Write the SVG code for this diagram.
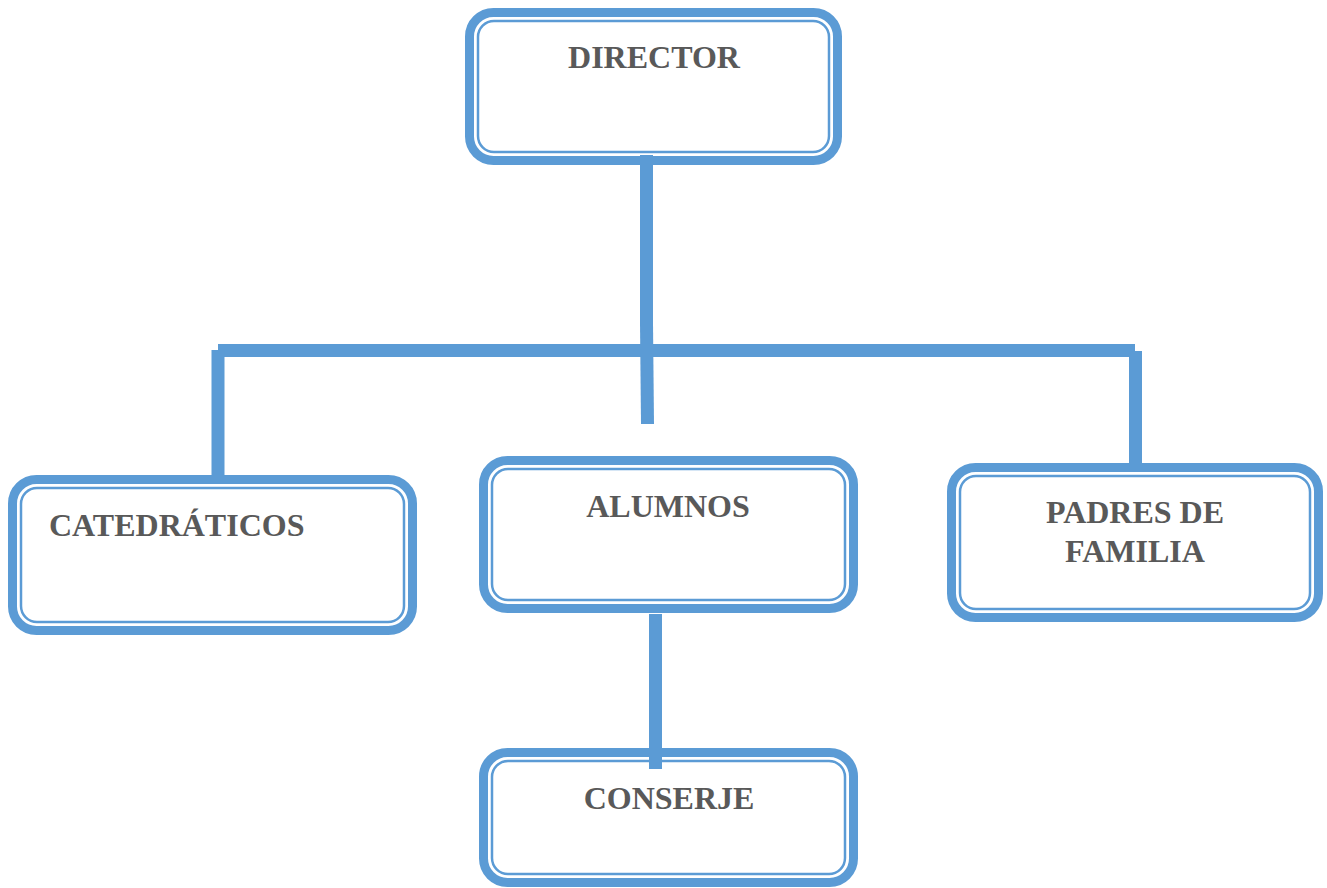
<svg xmlns="http://www.w3.org/2000/svg" width="1327" height="888" viewBox="0 0 1327 888">
<style>
.outer{fill:#fff;stroke:#5B9BD5;stroke-width:9}
.inner{fill:none;stroke:#5B9BD5;stroke-width:2.5}
.lbl{font-family:"Liberation Serif","Times New Roman",serif;font-weight:bold;font-size:32px;fill:#595959}
.c{text-anchor:middle}
.conn{stroke:#5B9BD5;stroke-width:13;fill:none;stroke-linecap:butt}
</style>
<rect width="1327" height="888" fill="#fff"/>
<g id="director">
<rect class="outer" x="469.5" y="12.5" width="368" height="148" rx="24"/>
<rect class="inner" x="478" y="21" width="351" height="131" rx="16"/>
<text class="lbl c" x="654" y="68">DIRECTOR</text>
</g>
<g id="catedraticos">
<rect class="outer" x="12.5" y="479.5" width="400" height="151" rx="24"/>
<rect class="inner" x="21" y="488" width="383" height="134" rx="16"/>
<text class="lbl" x="49" y="536">CATEDRÁTICOS</text>
</g>
<g id="alumnos">
<rect class="outer" x="483.5" y="460.5" width="370" height="148" rx="24"/>
<rect class="inner" x="492" y="469" width="353" height="131" rx="16"/>
<text class="lbl c" x="668" y="517">ALUMNOS</text>
</g>
<g id="padres">
<rect class="outer" x="951.5" y="467.5" width="367" height="150" rx="24"/>
<rect class="inner" x="960" y="476" width="350" height="133" rx="16"/>
<text class="lbl c" x="1135" y="523">PADRES DE</text>
<text class="lbl c" x="1135" y="562">FAMILIA</text>
</g>
<g id="conserje">
<rect class="outer" x="483.5" y="752.5" width="370" height="130" rx="24"/>
<rect class="inner" x="492" y="761" width="353" height="113" rx="16"/>
<text class="lbl c" x="669" y="809">CONSERJE</text>
</g>
<g id="connectors">
<line class="conn" x1="646.5" y1="155" x2="646.5" y2="324"/>
<line class="conn" x1="646.5" y1="323" x2="647.5" y2="424"/>
<line class="conn" x1="218" y1="350.5" x2="1135" y2="350.5"/>
<line class="conn" x1="218" y1="350" x2="218" y2="476"/>
<line class="conn" x1="1135.5" y1="351" x2="1135.5" y2="465"/>
<line class="conn" x1="655.5" y1="614" x2="655.5" y2="769"/>
</g>
</svg>
